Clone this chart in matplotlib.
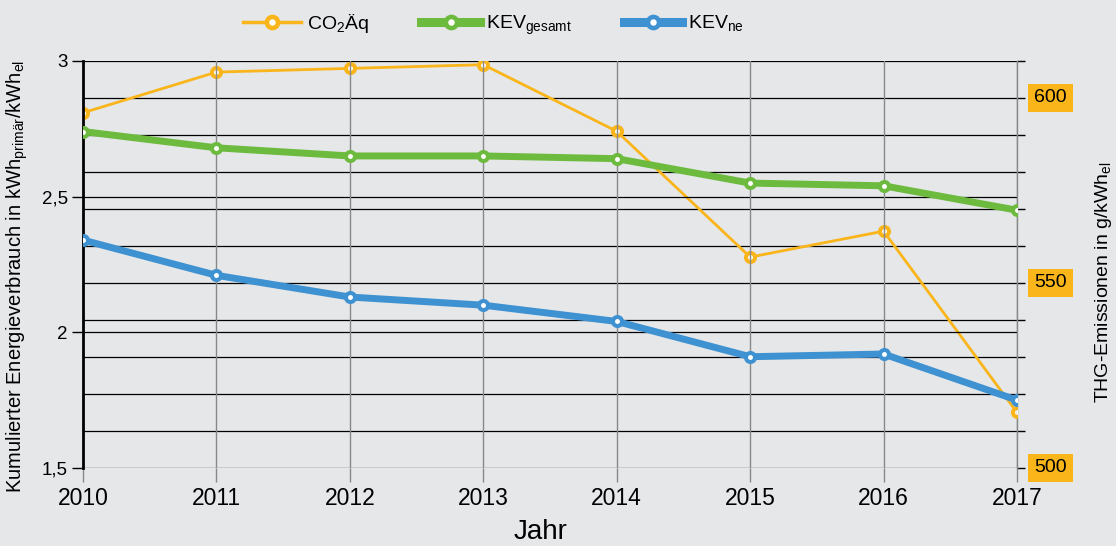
import matplotlib
matplotlib.use("Agg")
import matplotlib.pyplot as plt
from matplotlib.lines import Line2D

years = [2010, 2011, 2012, 2013, 2014, 2015, 2016, 2017]
co2_aeq = [596, 607, 608, 609, 591, 557, 564, 515]
kev_gesamt = [2.74, 2.68, 2.65, 2.65, 2.64, 2.55, 2.54, 2.45]
kev_ne = [2.34, 2.21, 2.13, 2.10, 2.04, 1.91, 1.92, 1.75]

left_ticks = [1.5, 2.0, 2.5, 3.0]
left_labels = ["1,5", "2", "2,5", "3"]
right_ticks = list(range(500, 611, 10))
right_labelled = [500, 550, 600]

BG = "#E6E7E9"
ORANGE = "#F9B51A"
GREEN = "#6DBB3E"
BLUE = "#3F92D2"

plt.rcParams["font.family"] = ["Liberation Sans", "DejaVu Sans"]
plt.rcParams["mathtext.fontset"] = "custom"
plt.rcParams["mathtext.rm"] = "Liberation Sans"

fig = plt.figure(figsize=(11.16, 5.46), dpi=100, facecolor=BG)
ax = fig.add_axes([0.0744, 0.1429, 0.8369, 0.7454])
ax2 = ax.twinx()
ax.set_zorder(ax2.get_zorder() + 1)
ax.patch.set_visible(False)
ax2.patch.set_facecolor(BG)

# right axis: fine grid every 10 g/kWh
ax2.set_ylim(500, 610)
ax2.set_yticks(right_ticks)
ax2.set_yticklabels([])
ax2.tick_params(axis="y", length=6, width=1, color="black", direction="out")
for v in right_ticks:
    ax2.axhline(v, color="black", lw=0.9, zorder=0)
for v in right_labelled:
    ax2.text(1.0185, v, str(v), transform=ax2.get_yaxis_transform(),
             ha="left", va="center", fontsize=14,
             bbox=dict(boxstyle="square,pad=0.3", fc=ORANGE, ec="none"))

# left axis
ax.set_ylim(1.5, 3.0)
ax.set_xlim(2010, 2017)
ax.set_yticks(left_ticks)
ax.set_yticklabels(left_labels, fontsize=13.5)
ax.set_xticks(years)
ax.set_xticklabels([str(y) for y in years], fontsize=16.5)
ax.tick_params(axis="y", length=8, width=1, pad=3)
ax.tick_params(axis="x", length=10, width=1, color="#888888", pad=4)
for v in [2.0, 2.5]:
    ax.axhline(v, color="black", lw=0.9, zorder=0)
for y in years[1:]:
    ax.axvline(y, color="#888888", lw=1, zorder=0)

for a in (ax, ax2):
    for s in a.spines.values():
        s.set_visible(False)
ax.spines["left"].set_visible(True)
ax.spines["left"].set_linewidth(2)
ax.spines["left"].set_color("black")
ax2.spines["right"].set_visible(True)
ax2.spines["right"].set_color("#888888")
ax2.spines["right"].set_linewidth(1)

mk = dict(marker="o", markersize=6.5, markerfacecolor="white", markeredgewidth=2.9)
ax2.plot(years, co2_aeq, color=ORANGE, lw=2, markeredgecolor=ORANGE, **mk, zorder=3)
ax.plot(years, kev_gesamt, color=GREEN, lw=5, markeredgecolor=GREEN, **mk, zorder=3)
ax.plot(years, kev_ne, color=BLUE, lw=5, markeredgecolor=BLUE, **mk, zorder=4)

ax.set_xlabel("Jahr", fontsize=20)
ax.xaxis.set_label_coords(0.49, -0.125)
ax.set_ylabel("Kumulierter Energieverbrauch in kWh$_\\mathregular{primär}$/kWh$_\\mathregular{el}$",
              fontsize=14.5)
ax.yaxis.set_label_coords(-0.057, 0.47)
ax2.set_ylabel("THG-Emissionen in g/kWh$_\\mathregular{el}$", fontsize=14)
ax2.yaxis.set_label_coords(1.081, 0.456)

lmk = dict(marker="o", markersize=8, markerfacecolor="white", markeredgewidth=3.3)
handles = [
    Line2D([], [], color=ORANGE, lw=2.5, markeredgecolor=ORANGE, **lmk),
    Line2D([], [], color=GREEN, lw=6.5, markeredgecolor=GREEN, **lmk),
    Line2D([], [], color=BLUE, lw=6.5, markeredgecolor=BLUE, **lmk),
]
labels = ["CO$_2$Äq", "KEV$_\\mathregular{gesamt}$", "KEV$_\\mathregular{ne}$"]
fig.legend(handles, labels, loc="upper center", bbox_to_anchor=(0.442, 1.01), ncol=3,
           frameon=False, fontsize=14, handlelength=3.0, columnspacing=2.7,
           handletextpad=0.3)

fig.savefig("out.png", dpi=100, facecolor=BG)
